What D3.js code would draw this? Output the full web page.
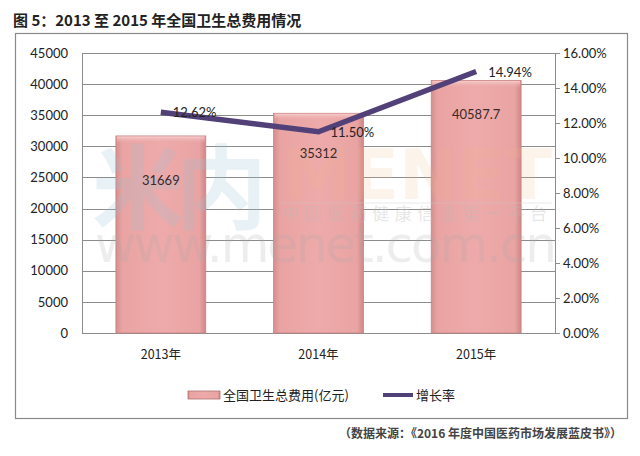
<!DOCTYPE html>
<html><head><meta charset="utf-8">
<script src="https://cdn.jsdelivr.net/npm/d3@7"></script>
<style>
html,body{margin:0;padding:0;background:#fff;}
svg{display:block;}
</style></head>
<body>
<svg id="c" width="640" height="456"></svg>
<script>
const categories = ["2013年", "2014年", "2015年"];
const spending = [31669, 35312, 40587.7];
const growth = [12.62, 11.50, 14.94];
const spendingLabels = ["31669", "35312", "40587.7"];
const growthLabels = ["12.62%", "11.50%", "14.94%"];
const leftTicks = [0,5000,10000,15000,20000,25000,30000,35000,40000,45000];
const rightTicks = [0,2,4,6,8,10,12,14,16];

const svg = d3.select("#c");
const latin = "Lato, 'Noto Sans CJK SC', sans-serif";
const cjk = "'Noto Sans CJK SC', sans-serif";

const L = 82, R = 555, T = 53, B = 333;
const x = d3.scaleBand().domain(categories).range([L, R]).paddingInner(0.43).paddingOuter(0.215);
const y = d3.scaleLinear().domain([0, 45000]).range([B, T]);
const y2 = d3.scaleLinear().domain([0, 16]).range([B, T]);

// defs
const defs = svg.append("defs");
const g1 = defs.append("linearGradient").attr("id","barG").attr("x1","0").attr("x2","1").attr("y1","0").attr("y2","0");
g1.append("stop").attr("offset","0").attr("stop-color","#d68e8e");
g1.append("stop").attr("offset","0.07").attr("stop-color","#e9a3a3");
g1.append("stop").attr("offset","0.5").attr("stop-color","#eeaaaa");
g1.append("stop").attr("offset","0.93").attr("stop-color","#e9a3a3");
g1.append("stop").attr("offset","1").attr("stop-color","#cf8787");
const g2 = defs.append("linearGradient").attr("id","topG").attr("x1","0").attr("x2","0").attr("y1","0").attr("y2","1");
g2.append("stop").attr("offset","0").attr("stop-color","#f6cccc");
g2.append("stop").attr("offset","1").attr("stop-color","#eba6a6").attr("stop-opacity","0");

// title
svg.append("text").attr("x",13).attr("y",26).attr("font-family",cjk).attr("font-weight","bold")
  .attr("font-size",15).attr("fill","#222").text("图 5：2013 至 2015 年全国卫生总费用情况");

// frame
svg.append("rect").attr("x",15.5).attr("y",33.5).attr("width",612).attr("height",385)
  .attr("fill","#fff").attr("stroke","#8a8a8a").attr("stroke-width",1.2);

// gridlines
svg.append("g").selectAll("line").data(leftTicks).join("line")
  .attr("x1",L).attr("x2",R).attr("y1",d=>Math.round(y(d))+0.5).attr("y2",d=>Math.round(y(d))+0.5)
  .attr("stroke","#8c8c8c").attr("stroke-width",1);
svg.append("line").attr("x1",L+0.5).attr("x2",L+0.5).attr("y1",T).attr("y2",B).attr("stroke","#8c8c8c");

// left axis labels
const ax = svg.append("g").attr("transform",`translate(${L-12},0)`)
  .call(d3.axisLeft(y).tickValues(leftTicks).tickSize(0).tickFormat(d=>String(d)));
ax.select(".domain").remove();
ax.selectAll("text").attr("font-family",latin).attr("font-size",13).attr("fill","#222").attr("x",-2);

// right axis
const ax2 = svg.append("g").attr("transform",`translate(${R},0)`)
  .call(d3.axisRight(y2).tickValues(rightTicks).tickSize(5).tickFormat(d=>d.toFixed(2)+"%"));
ax2.select(".domain").attr("stroke","#8c8c8c").attr("d",`M0.5,${T}V${B}`);
ax2.selectAll(".tick line").attr("stroke","#8c8c8c");
ax2.selectAll("text").attr("font-family",latin).attr("font-size",13).attr("fill","#222").attr("x",8);

// x labels
svg.append("g").selectAll("text").data(categories).join("text")
  .attr("x",d=>x(d)+x.bandwidth()/2).attr("y",359).attr("text-anchor","middle")
  .attr("font-family",cjk).attr("font-size",12.5).attr("fill","#222").text(d=>d);

// bars
const bars = svg.append("g");
bars.selectAll("rect.b").data(spending).join("rect").attr("class","b")
  .attr("x",(d,i)=>x(categories[i])).attr("width",x.bandwidth())
  .attr("y",d=>y(d)).attr("height",d=>B-y(d))
  .attr("fill","url(#barG)").attr("stroke","#c98282").attr("stroke-width",0.8);
bars.selectAll("rect.t").data(spending).join("rect").attr("class","t")
  .attr("x",(d,i)=>x(categories[i])+1).attr("width",x.bandwidth()-2)
  .attr("y",d=>y(d)+0.5).attr("height",7).attr("fill","url(#topG)");

// watermark (faint)
const wm = svg.append("g").attr("pointer-events","none");
wm.append("text").attr("x",92).attr("y",222).attr("font-family",cjk).attr("font-weight","bold")
  .attr("font-size",92).attr("fill","#9cc3d3").attr("opacity",0.22).attr("textLength",175).text("米内");
wm.append("text").attr("x",282).attr("y",199).attr("font-family","'DejaVu Sans', sans-serif").attr("font-weight","bold")
  .attr("font-size",70).attr("fill","#f2b98a").attr("opacity",0.16).attr("textLength",270).text("MENET");
wm.append("line").attr("x1",282).attr("x2",552).attr("y1",203).attr("y2",203).attr("stroke","#ccc").attr("opacity",0.4);
wm.append("text").attr("x",282).attr("y",220).attr("font-family",cjk)
  .attr("font-size",17).attr("fill","#bbb").attr("opacity",0.35).attr("textLength",265).text("中国医药健康信息第一平台");
wm.append("text").attr("x",95).attr("y",262).attr("font-family","'DejaVu Sans', sans-serif")
  .attr("font-size",50).attr("fill","#aaa").attr("opacity",0.2).attr("textLength",462).text("www.menet.com.cn");

// bar labels
svg.append("g").selectAll("text").data(spending).join("text")
  .attr("x",(d,i)=>x(categories[i])+x.bandwidth()/2)
  .attr("y",d=>y(d)+40+(y(d)-y(35312))*0.2+5)
  .attr("text-anchor","middle").attr("font-family",latin).attr("font-size",13).attr("fill","#3a2a2a")
  .text((d,i)=>spendingLabels[i]);

// line
const line = d3.line().x((d,i)=>x(categories[i])+x.bandwidth()/2).y(d=>y2(d));
svg.append("path").datum(growth).attr("d",line).attr("fill","none")
  .attr("stroke","#524178").attr("stroke-width",5.5).attr("stroke-linejoin","miter");

// line labels
svg.append("g").selectAll("text").data(growth).join("text")
  .attr("x",(d,i)=>x(categories[i])+x.bandwidth()/2+12).attr("y",d=>y2(d)+5)
  .attr("font-family",latin).attr("font-size",13).attr("fill","#222").text((d,i)=>growthLabels[i]);

// legend
const lg = svg.append("g");
lg.append("rect").attr("x",188).attr("y",391).attr("width",32).attr("height",8)
  .attr("fill","url(#barG)").attr("stroke","#b07070").attr("stroke-width",0.8);
lg.append("text").attr("x",223).attr("y",400).attr("font-family",cjk).attr("font-size",13).attr("fill","#222").text("全国卫生总费用(亿元)");
lg.append("line").attr("x1",383).attr("x2",413).attr("y1",395).attr("y2",395).attr("stroke","#524178").attr("stroke-width",4);
lg.append("text").attr("x",416).attr("y",400).attr("font-family",cjk).attr("font-size",13).attr("fill","#222").text("增长率");

// source
svg.append("text").attr("x",622).attr("y",438).attr("text-anchor","end").attr("font-family",cjk)
  .attr("font-weight","bold").attr("font-size",12).attr("fill","#444").text("（数据来源：《2016 年度中国医药市场发展蓝皮书》）");
</script>
</body></html>
